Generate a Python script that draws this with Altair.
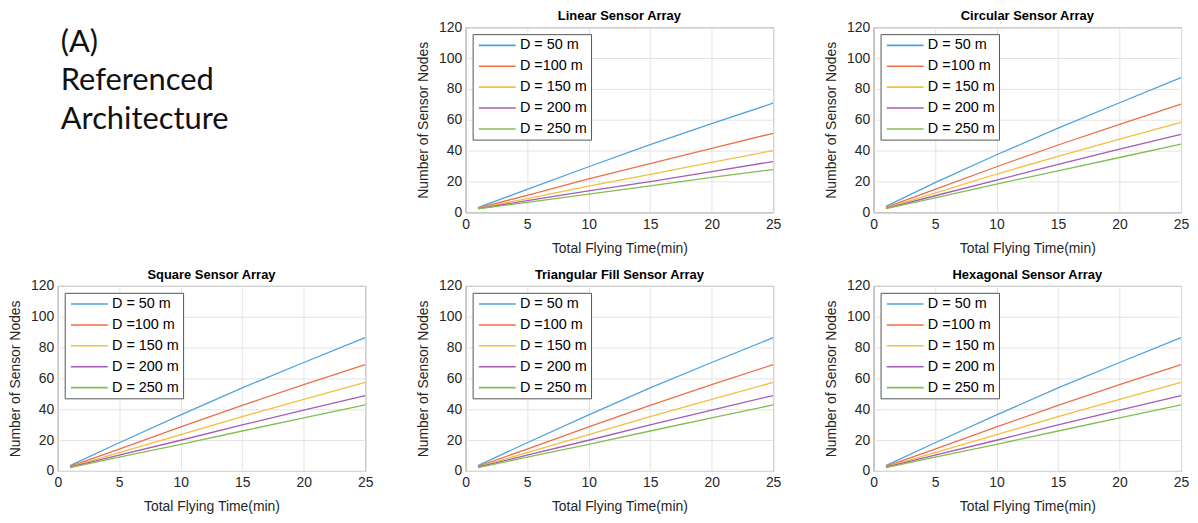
import altair as alt
import pandas as pd

# ---------------- data ----------------
TIME = [1, 5, 10, 15, 20, 25]
D_LABELS = ["D = 50 m", "D =100 m", "D = 150 m", "D = 200 m", "D = 250 m"]
COLORS = ["#4FA3DD", "#EC6F4A", "#F2BF3E", "#A25CBD", "#84BD50"]

TITLES = ["Linear Sensor Array", "Circular Sensor Array", "Square Sensor Array",
          "Triangular Fill Sensor Array", "Hexagonal Sensor Array"]

LINEAR_50 = [3.0, 14.8, 29.5, 43.8, 57.4, 70.7]
LINEAR_100 = [2.7, 11.0, 21.6, 31.5, 41.5, 51.2]
LINEAR_150 = [2.5, 8.9, 17.0, 24.6, 32.3, 40.0]
LINEAR_200 = [2.3, 7.5, 13.9, 19.9, 26.4, 32.9]
LINEAR_250 = [2.2, 6.4, 11.7, 17.1, 22.6, 27.7]

CIRC_50 = [3.8, 19.2, 37.3, 54.5, 71.0, 87.3]
CIRC_100 = [3.2, 14.9, 29.5, 43.6, 57.0, 70.1]
CIRC_150 = [2.8, 12.4, 24.8, 36.2, 47.4, 58.3]
CIRC_200 = [2.5, 10.7, 20.9, 31.0, 40.9, 50.5]
CIRC_250 = [2.3, 9.3, 18.3, 26.9, 35.5, 44.1]

SQUARE_50 = [3.5, 18.3, 36.3, 53.9, 70.3, 86.4]
SQUARE_100 = [3.0, 14.2, 28.6, 42.5, 55.9, 68.9]
SQUARE_150 = [2.7, 11.8, 23.5, 35.2, 46.4, 57.4]
SQUARE_200 = [2.4, 10.2, 19.9, 29.8, 39.4, 48.9]
SQUARE_250 = [2.2, 8.9, 17.2, 25.9, 34.4, 42.8]

TRI_50 = [3.5, 18.3, 36.3, 53.9, 70.3, 86.4]
TRI_100 = [3.0, 14.2, 28.6, 42.5, 55.9, 68.9]
TRI_150 = [2.7, 11.8, 23.5, 35.2, 46.4, 57.4]
TRI_200 = [2.4, 10.2, 19.9, 29.8, 39.4, 48.9]
TRI_250 = [2.2, 8.9, 17.2, 25.9, 34.4, 42.8]

HEX_50 = [3.5, 18.3, 36.3, 53.9, 70.3, 86.4]
HEX_100 = [3.0, 14.2, 28.6, 42.5, 55.9, 68.9]
HEX_150 = [2.7, 11.8, 23.5, 35.2, 46.4, 57.4]
HEX_200 = [2.4, 10.2, 19.9, 29.8, 39.4, 48.9]
HEX_250 = [2.2, 8.9, 17.2, 25.9, 34.4, 42.8]

PANEL_SERIES = [
    [LINEAR_50, LINEAR_100, LINEAR_150, LINEAR_200, LINEAR_250],
    [CIRC_50, CIRC_100, CIRC_150, CIRC_200, CIRC_250],
    [SQUARE_50, SQUARE_100, SQUARE_150, SQUARE_200, SQUARE_250],
    [TRI_50, TRI_100, TRI_150, TRI_200, TRI_250],
    [HEX_50, HEX_100, HEX_150, HEX_200, HEX_250],
]

X_TICKS = [0, 5, 10, 15, 20, 25]
Y_TICKS = [0, 20, 40, 60, 80, 100, 120]
HEADING = "(A)\nReferenced\nArchitecture"

FONT = "Liberation Sans"
W, H = 309, 186


def panel(title, series):
    rows = []
    for lab, vals in zip(D_LABELS, series):
        for t, v in zip(TIME, vals):
            rows.append({"t": t, "n": v, "d": lab})
    df = pd.DataFrame(rows)
    return alt.Chart(df).mark_line(strokeWidth=1.3).encode(
        x=alt.X("t:Q", scale=alt.Scale(domain=[0, 25], nice=False),
                axis=alt.Axis(values=X_TICKS, title="Total Flying Time(min)",
                              labelFlush=False)),
        y=alt.Y("n:Q", scale=alt.Scale(domain=[0, 120], nice=False),
                axis=alt.Axis(values=Y_TICKS, title="Number of Sensor Nodes")),
        color=alt.Color("d:N", sort=D_LABELS,
                        scale=alt.Scale(domain=D_LABELS, range=COLORS),
                        legend=alt.Legend(title=None, orient="top-left", offset=7,
                                          symbolType="M-1,0H6.4", symbolSize=100,
                                          symbolStrokeWidth=1.6, labelOffset=29,
                                          padding=4, rowPadding=6,
                                          strokeColor="#555555", fillColor="white",
                                          labelFont=FONT, labelFontSize=14.5,
                                          labelColor="#000000")),
        detail="d:N",
    ).properties(width=W, height=H,
                 title=alt.TitleParams(title, font=FONT, fontSize=13,
                                       fontWeight="bold", color="#000000", offset=-3))


heading = alt.Chart(pd.DataFrame({"txt": [HEADING]})).mark_text(
    align="left", baseline="alphabetic", font="Lato", fontSize=31,
    lineBreak="\n", lineHeight=38.5, color="#111111"
).encode(text="txt:N", x=alt.value(3), y=alt.value(25)).properties(
    width=W, height=H, view=alt.ViewBackground(stroke="transparent"))

panels = [panel(t, s) for t, s in zip(TITLES, PANEL_SERIES)]

chart = alt.concat(heading, *panels, columns=3,
                   spacing={"row": 12, "column": 42}).resolve_scale(
    color="independent").resolve_legend(color="independent").properties(
    padding=0
).configure_view(stroke="#555555", strokeWidth=1).configure_axis(
    labelFont=FONT, titleFont=FONT, labelFontSize=14, titleFontSize=14,
    titleFontWeight="normal", labelColor="#262626", titleColor="#262626",
    gridColor="#e3e3e3", gridWidth=1, domain=False, ticks=False,
).configure_axisX(labelPadding=5, titlePadding=10).configure_axisY(
    labelPadding=4, titlePadding=8)

chart.save("out.html", embed_options={"renderer": "svg", "actions": False})
